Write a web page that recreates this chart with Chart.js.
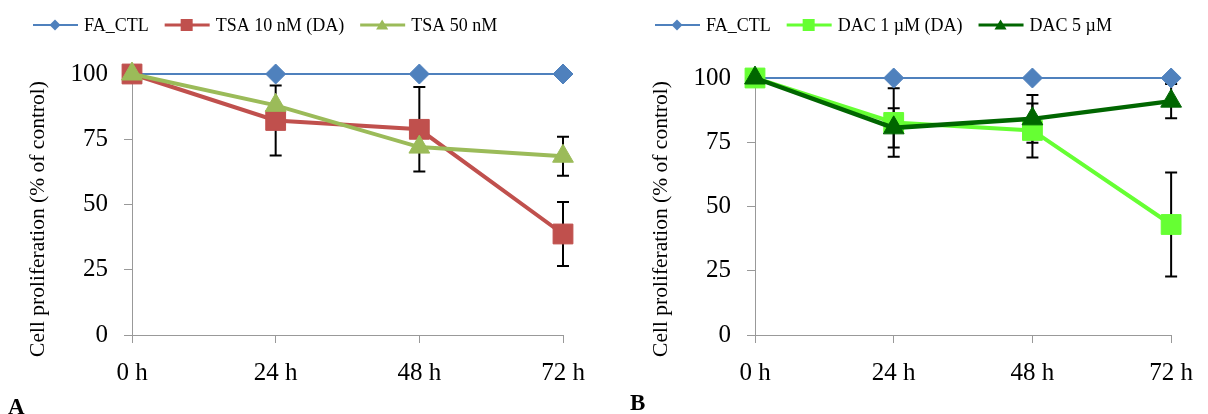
<!DOCTYPE html>
<html>
<head>
<meta charset="utf-8">
<script src="https://cdn.jsdelivr.net/npm/chart.js@4.4.1/dist/chart.umd.min.js"></script>
<style>
  html, body { margin: 0; padding: 0; background: #fff; }
  #wrap { position: relative; width: 1208px; height: 414px; overflow: hidden; }
  .panel { position: absolute; top: 0; width: 604px; height: 414px; }
</style>
</head>
<body>
<div id="wrap">
  <div class="panel" style="left:0"><canvas id="chartA" width="604" height="414"></canvas></div>
  <div class="panel" style="left:604px"><canvas id="chartB" width="604" height="414"></canvas></div>
</div>
<script>
const timeLabels = ['0 h', '24 h', '48 h', '72 h'];
const yTicks = [0, 25, 50, 75, 100];

// panel A - TSA
const ctlA = [100, 100, 100, 100];
const tsa10 = [100, 82.2, 78.8, 38.7];
const tsa10Err = [null, 13.4, 16.2, 12.3];
const tsa50 = [100, 88, 72, 68.5];
const tsa50Err = [null, null, null, 7.5];

// panel B - DAC
const ctlB = [100, 100, 100, 100];
const dac1 = [100, 82.7, 79.6, 43];
const dac1Err = [null, 13.3, 10.5, 20.2];
const dac5 = [100, 80.6, 84.1, 91];
const dac5Err = [null, 7.6, 9.3, 6.7];

const SERIF = "'Liberation Serif', 'Times New Roman', serif";

function drawMarker(ctx, kind, x, y, r, color) {
  ctx.fillStyle = color;
  ctx.beginPath();
  if (kind === 'rectRot') {
    ctx.moveTo(x, y - r); ctx.lineTo(x + r, y); ctx.lineTo(x, y + r); ctx.lineTo(x - r, y);
  } else if (kind === 'rect') {
    ctx.rect(x - r, y - r, 2 * r, 2 * r);
  } else {
    ctx.moveTo(x, y - r); ctx.lineTo(x + r * 1.1, y + r * 0.8); ctx.lineTo(x - r * 1.1, y + r * 0.8);
  }
  ctx.closePath();
  ctx.fill();
}

// error bars, drawn under the lines
const errorBars = {
  id: 'errorBars',
  beforeDatasetsDraw(chart) {
    const { ctx, scales: { x, y } } = chart;
    ctx.save();
    ctx.strokeStyle = '#000';
    ctx.lineWidth = 2;
    chart.data.datasets.forEach(ds => {
      if (!ds.errors) return;
      ds.data.forEach((v, j) => {
        const e = ds.errors[j];
        if (e == null) return;
        const px = x.getPixelForValue(j);
        const top = y.getPixelForValue(v + e);
        const bot = y.getPixelForValue(v - e);
        ctx.beginPath();
        ctx.moveTo(px, top); ctx.lineTo(px, bot);
        ctx.moveTo(px - 6, top); ctx.lineTo(px + 6, top);
        ctx.moveTo(px - 6, bot); ctx.lineTo(px + 6, bot);
        ctx.stroke();
      });
    });
    ctx.restore();
  }
};

// legend, axis title and panel letter
const decor = {
  id: 'decor',
  afterDraw(chart, args, opts) {
    const ctx = chart.ctx;
    ctx.save();
    ctx.font = '18px ' + SERIF;
    ctx.textBaseline = 'middle';
    let lx = opts.legendX;
    const ly = 25;
    chart.data.datasets.forEach(ds => {
      ctx.strokeStyle = ds.borderColor;
      ctx.lineWidth = Math.min(ds.borderWidth, 3);
      ctx.beginPath();
      ctx.moveTo(lx, ly); ctx.lineTo(lx + 45, ly);
      ctx.stroke();
      drawMarker(ctx, ds.pointStyle, lx + 22, ly, ds.pointStyle === 'rect' ? 6 : 5.5, ds.borderColor);
      ctx.fillStyle = '#000';
      ctx.textAlign = 'left';
      ctx.fillText(ds.label, lx + 51, ly + 1);
      lx += 51 + ctx.measureText(ds.label).width + 16;
    });

    ctx.save();
    ctx.translate(opts.titleX, 219);
    ctx.rotate(-Math.PI / 2);
    ctx.font = '21.5px ' + SERIF;
    ctx.textAlign = 'center';
    ctx.fillText('Cell proliferation (% of control)', 0, 0);
    ctx.restore();

    ctx.font = 'bold 23px ' + SERIF;
    ctx.textAlign = 'left';
    ctx.textBaseline = 'top';
    ctx.fillText(opts.letter, opts.letterX, opts.letterY);
    ctx.restore();
  }
};

function series(label, data, errors, color, width, style, radius, order) {
  return {
    label, data, errors, order,
    borderColor: color, backgroundColor: color, borderWidth: width,
    pointStyle: style, pointRadius: radius, pointHoverRadius: radius,
    pointBackgroundColor: color, pointBorderColor: color, pointBorderWidth: 1,
    tension: 0, clip: false
  };
}

function makeChart(id, datasets, cfg) {
  const tickFont = { family: SERIF, size: 25 };
  return new Chart(document.getElementById(id), {
    type: 'line',
    data: { labels: timeLabels, datasets },
    options: {
      responsive: false,
      animation: false,
      layout: { padding: { top: cfg.top, right: cfg.right, left: 0, bottom: 0 } },
      scales: {
        x: {
          offset: false,
          grid: { drawOnChartArea: false, tickLength: 8, color: '#999' },
          border: { color: '#999' },
          ticks: { font: tickFont, color: '#000', padding: 15, maxRotation: 0 },
          afterFit: s => { s.height = 414 - 335; }
        },
        y: {
          min: 0, max: 100,
          afterBuildTicks: s => { s.ticks = yTicks.map(v => ({ value: v })); },
          grid: { drawOnChartArea: false, tickLength: 8, color: '#999' },
          border: { color: '#999' },
          ticks: { font: tickFont, color: '#000', padding: 16 },
          afterFit: s => { s.width = cfg.left; }
        }
      },
      plugins: {
        legend: { display: false },
        tooltip: { enabled: false },
        decor: cfg.decor
      }
    },
    plugins: [errorBars, decor]
  });
}

makeChart('chartA', [
  series('FA_CTL', ctlA, null, '#4F81BD', 2, 'rectRot', 10, 3),
  series('TSA 10 nM (DA)', tsa10, tsa10Err, '#C0504D', 4, 'rect', 14, 2),
  series('TSA 50 nM', tsa50, tsa50Err, '#9BBB59', 4, 'triangle', 12, 1)
], { top: 74, right: 41, left: 132, decor: { legendX: 33, titleX: 38, letter: 'A', letterX: 8, letterY: 397 } });

makeChart('chartB', [
  series('FA_CTL', ctlB, null, '#4F81BD', 2, 'rectRot', 10, 3),
  series('DAC 1 µM (DA)', dac1, dac1Err, '#66FF33', 4, 'rect', 14, 2),
  series('DAC 5 µM', dac5, dac5Err, '#006600', 4.5, 'triangle', 12, 1)
], { top: 78, right: 25, left: 151, decor: { legendX: 51, titleX: 57, letter: 'B', letterX: 26, letterY: 393 } });
</script>
</body>
</html>
